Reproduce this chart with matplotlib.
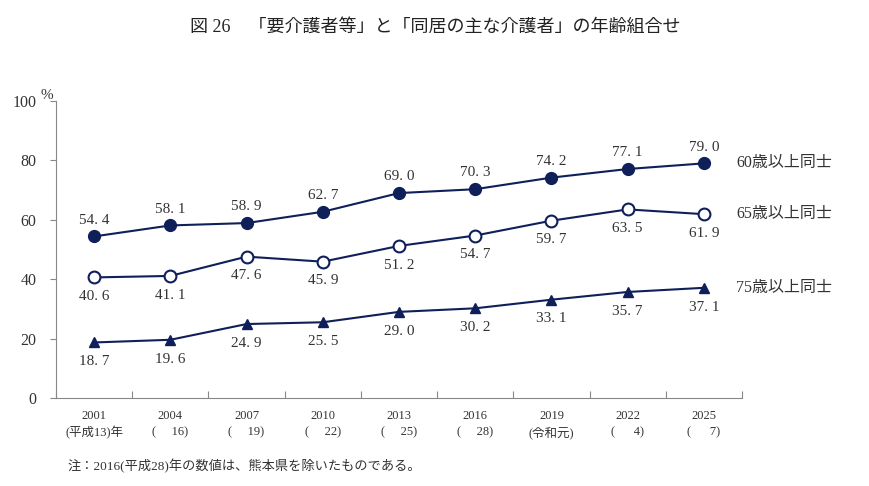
import matplotlib.pyplot as plt
import numpy as np

plt.rcParams['font.family'] = ['Liberation Serif', 'Noto Sans CJK JP', 'DejaVu Sans']

years = ["2001", "2004", "2007", "2010", "2013", "2016", "2019", "2022", "2025"]
eras = ["(平成13)年", "(\u2003 16)", "(\u2003 19)", "(\u2003 22)", "(\u2003 25)",
        "(\u2003 28)", "(令和元)", "(\u2003  4)", "(\u2003  7)"]
age60 = [54.4, 58.1, 58.9, 62.7, 69.0, 70.3, 74.2, 77.1, 79.0]
age65 = [40.6, 41.1, 47.6, 45.9, 51.2, 54.7, 59.7, 63.5, 61.9]
age75 = [18.7, 19.6, 24.9, 25.5, 29.0, 30.2, 33.1, 35.7, 37.1]
names = ["60歳以上同士", "65歳以上同士", "75歳以上同士"]

navy = "#0f1f5a"
gray = "#888888"

fig = plt.figure(figsize=(8.7, 4.86), dpi=100)
ax = fig.add_axes([56 / 870, 1 - 398 / 486, (742 - 56) / 870, (398 - 101) / 486])

x = np.arange(len(years))
ax.plot(x, age60, color=navy, lw=1.5, marker="o", ms=8.5, mfc=navy, mec=navy)
ax.plot(x, age65, color=navy, lw=1.5, marker="o", ms=8.5, mfc="white", mec=navy, mew=1.5)
ax.plot(x, age75, color=navy, lw=1.5, marker="^", ms=7.5, mfc=navy, mec=navy)

for i in x:
    ax.text(i, age60[i] + 5.5, "{:.1f}".format(age60[i]).replace(".", ". "),
            ha="center", va="center", fontsize=11, color="#333333")
    ax.text(i, age65[i] - 6.5, "{:.1f}".format(age65[i]).replace(".", ". "),
            ha="center", va="center", fontsize=11, color="#333333")
    ax.text(i, age75[i] - 6.5, "{:.1f}".format(age75[i]).replace(".", ". "),
            ha="center", va="center", fontsize=11, color="#333333")

for vals, name in zip([age60, age65, age75], names):
    ax.text(len(years) - 1 + 0.42, vals[-1], name, ha="left", va="center",
            fontsize=11.5, color="#333333")

ax.set_xlim(-0.5, len(years) - 0.5)
ax.set_ylim(0, 100)
ax.set_yticks([0, 20, 40, 60, 80, 100])
ax.tick_params(axis="y", labelsize=11.5, colors="#333333", length=4, color=gray, pad=10)
ax.set_xticks(np.arange(-0.5, len(years), 1))
ax.set_xticklabels([])
ax.tick_params(axis="x", direction="in", length=5, color=gray)
for i in x:
    ax.text(i, -4, years[i], ha="center", va="top", fontsize=9, color="#333333")
    ax.text(i, -9.5, eras[i], ha="center", va="top", fontsize=9, color="#333333")

for s in ["top", "right"]:
    ax.spines[s].set_visible(False)
for s in ["left", "bottom"]:
    ax.spines[s].set_color(gray)

ax.text(-0.62, 102, "%", ha="center", va="center", fontsize=11, color="#333333")

fig.text(0.5, 1 - 27 / 486, "図 26\u3000「要介護者等」と「同居の主な介護者」の年齢組合せ",
         ha="center", va="center", fontsize=13, color="#222222")
fig.text(68 / 870, 1 - 466 / 486, "注：2016(平成28)年の数値は、熊本県を除いたものである。",
         ha="left", va="center", fontsize=9.5, color="#333333")

fig.savefig("out.png", dpi=100)
